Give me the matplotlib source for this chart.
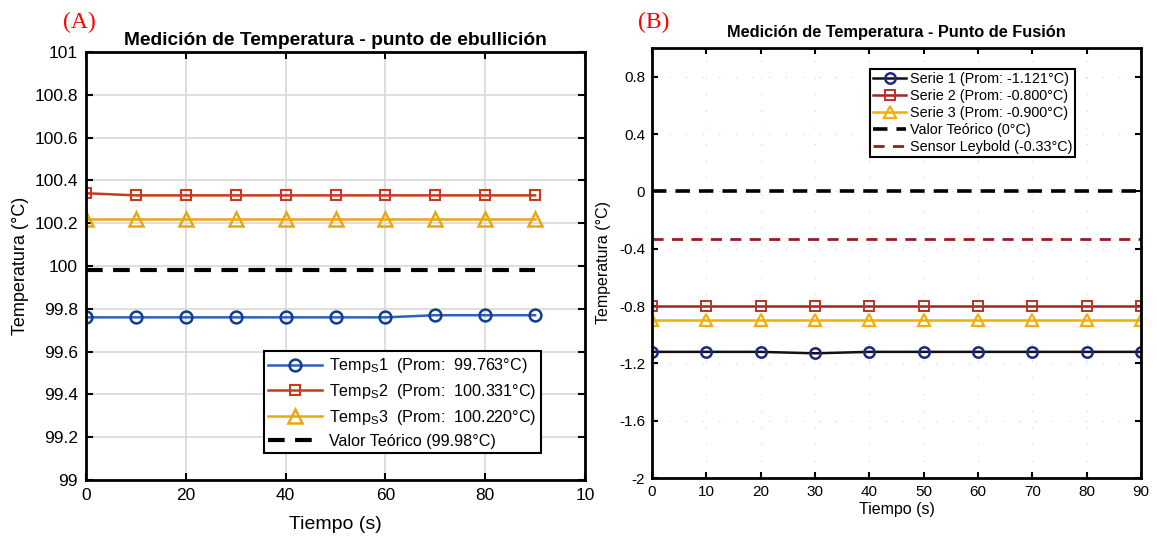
import matplotlib.pyplot as plt

plt.rcParams['font.family'] = ['Liberation Sans', 'DejaVu Sans']
plt.rcParams['mathtext.fontset'] = 'custom'
plt.rcParams['mathtext.rm'] = 'Liberation Sans'
plt.rcParams['mathtext.it'] = 'Liberation Sans'

######################## data #################################################
tiempo = [0, 10, 20, 30, 40, 50, 60, 70, 80, 90]

# (A) punto de ebullicion
temp_s1 = [99.76, 99.76, 99.76, 99.76, 99.76, 99.76, 99.76, 99.77, 99.77, 99.77]
temp_s2 = [100.34, 100.33, 100.33, 100.33, 100.33, 100.33, 100.33, 100.33, 100.33, 100.33]
temp_s3 = [100.22, 100.22, 100.22, 100.22, 100.22, 100.22, 100.22, 100.22, 100.22, 100.22]
teorico_A = 99.98
labels_A = [r'Temp$_\mathrm{S}$1  (Prom:  99.763°C)',
            r'Temp$_\mathrm{S}$2  (Prom:  100.331°C)',
            r'Temp$_\mathrm{S}$3  (Prom:  100.220°C)',
            'Valor Teórico (99.98°C)']
xticks_A = [0, 20, 40, 60, 80, 100]
xticklabels_A = ['0', '20', '40', '60', '80', '10']
yticks_A = [99, 99.2, 99.4, 99.6, 99.8, 100, 100.2, 100.4, 100.6, 100.8, 101]
yticklabels_A = ['99', '99.2', '99.4', '99.6', '99.8', '100', '100.2', '100.4',
                 '100.6', '100.8', '101']

# (B) punto de fusion
serie_1 = [-1.12, -1.12, -1.12, -1.13, -1.12, -1.12, -1.12, -1.12, -1.12, -1.12]
serie_2 = [-0.80, -0.80, -0.80, -0.80, -0.80, -0.80, -0.80, -0.80, -0.80, -0.80]
serie_3 = [-0.90, -0.90, -0.90, -0.90, -0.90, -0.90, -0.90, -0.90, -0.90, -0.90]
teorico_B = 0.0
leybold_B = -0.33
labels_B = ['Serie 1 (Prom: -1.121°C)', 'Serie 2 (Prom: -0.800°C)',
            'Serie 3 (Prom: -0.900°C)', 'Valor Teórico (0°C)',
            'Sensor Leybold (-0.33°C)']
yticks_B = [-2, -1.6, -1.2, -0.8, -0.4, 0, 0.4, 0.8]
yticklabels_B = ['-2', '-1.6', '-1.2', '-0.8', '-0.4', '0', '0.4', '0.8']
######################## data #################################################

fig = plt.figure(figsize=(11.57, 5.36), dpi=100)

######################## (A) ##################################################
axA = fig.add_axes([86/1157, 56/536, 499/1157, 428/536])
axA.plot(tiempo, temp_s1, color='#2a63b5', lw=1.8, marker='o', ms=8.5,
         mfc='none', mec='#103d8f', mew=1.8, label=labels_A[0])
axA.plot(tiempo, temp_s2, color='#c63a1e', lw=1.8, marker='s', ms=7.5,
         mfc='none', mec='#c63a1e', mew=1.5, label=labels_A[1])
axA.plot(tiempo, temp_s3, color='#e8a814', lw=1.8, marker='^', ms=9.5,
         mfc='none', mec='#e8a814', mew=1.8, label=labels_A[2])
axA.plot([tiempo[0], tiempo[-1]], [teorico_A, teorico_A], color='black', lw=3,
         ls=(0, (4, 2.5)), label=labels_A[3])
axA.set_xlim(0, 100)
axA.set_ylim(99, 101)
axA.set_xticks(xticks_A)
axA.set_xticklabels(xticklabels_A)
axA.set_yticks(yticks_A)
axA.set_yticklabels(yticklabels_A)
axA.grid(True, color='#d8d8d8', lw=1.2)
axA.set_axisbelow(True)
axA.tick_params(direction='in', length=5, width=1.5, labelsize=12.5,
                top=True, right=True, pad=6)
for s in axA.spines.values():
    s.set_linewidth(2)
axA.set_title('Medición de Temperatura - punto de ebullición', fontsize=13.8,
              fontweight='bold', pad=5)
axA.set_xlabel('Tiempo (s)', fontsize=14, labelpad=9)
axA.set_ylabel('Temperatura (°C)', fontsize=13, labelpad=4)
legA = axA.legend(loc='lower right', bbox_to_anchor=(0.912, 0.062), fontsize=11.6,
                  fancybox=False, edgecolor='black', framealpha=1,
                  borderpad=0.3, labelspacing=0.42, handlelength=3.3,
                  handletextpad=0.45, borderaxespad=0)
legA.get_frame().set_linewidth(1.5)
fig.text(63/1157, 1 - 22/536, '(A)', color='red', fontsize=17,
         family='Liberation Serif', va='center')

######################## (B) ##################################################
axB = fig.add_axes([652/1157, 58/536, 489/1157, 430/536])
axB.plot(tiempo, serie_1, color='#111111', lw=1.8, marker='o', ms=7.5,
         mfc='none', mec='#1b2a80', mew=1.8, label=labels_B[0])
axB.plot(tiempo, serie_2, color='#a3261c', lw=1.8, marker='s', ms=6.5,
         mfc='none', mec='#b8342a', mew=1.4, label=labels_B[1])
axB.plot(tiempo, serie_3, color='#f0b000', lw=1.8, marker='^', ms=8.5,
         mfc='none', mec='#f0b000', mew=1.6, label=labels_B[2])
axB.plot([tiempo[0], tiempo[-1]], [teorico_B, teorico_B], color='black', lw=2.6,
         ls=(0, (4, 2.5)), label=labels_B[3])
axB.plot([tiempo[0], tiempo[-1]], [leybold_B, leybold_B], color='#9e1b1b', lw=2,
         ls=(0, (4, 3)), label=labels_B[4])
axB.set_xlim(0, 90)
axB.set_ylim(-2, 1)
axB.set_xticks(tiempo)
axB.set_yticks(yticks_B)
axB.set_yticklabels(yticklabels_B)
axB.grid(True, color='#d0d0d0', lw=0.8, ls=(0, (1, 14)))
axB.tick_params(direction='in', length=4, width=1.5, labelsize=11,
                top=True, right=True, pad=5)
for s in axB.spines.values():
    s.set_linewidth(2)
axB.set_title('Medición de Temperatura - Punto de Fusión', fontsize=11.8,
              fontweight='bold', pad=8)
axB.set_xlabel('Tiempo (s)', fontsize=11.5, labelpad=2)
axB.set_ylabel('Temperatura (°C)', fontsize=11.5, labelpad=6)
legB = axB.legend(loc='upper right', bbox_to_anchor=(0.866, 0.95),
                  fontsize=10.4,
                  fancybox=False, edgecolor='black', framealpha=1,
                  borderpad=0.2, labelspacing=0.2, handlelength=2.3,
                  handletextpad=0.25, borderaxespad=0)
legB.get_frame().set_linewidth(1.5)
fig.text(638/1157, 1 - 22/536, '(B)', color='red', fontsize=17,
         family='Liberation Serif', va='center')

fig.savefig('out.png', dpi=100)
